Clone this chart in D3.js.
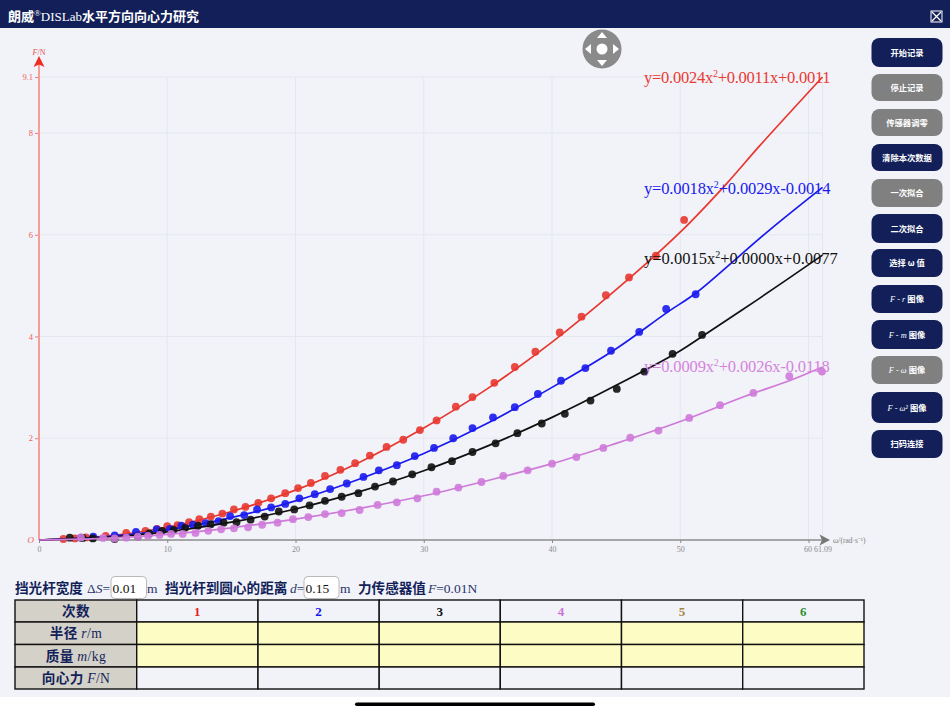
<!DOCTYPE html>
<html>
<head>
<meta charset="utf-8">
<script src="https://cdn.jsdelivr.net/npm/d3@7"></script>
<style>
  html, body { margin: 0; padding: 0; background: #fff; overflow: hidden; }
  svg { display: block; }
</style>
</head>
<body>
<div id="vis"></div>
<script>
const WIDTH = 950;
const HEIGHT = 712;
const SERIF = "'Liberation Serif', serif";
const CJK = "'Noto Sans CJK SC', sans-serif";
const NAVY = "#131f59";
const GREY = "#808080";

// measured points
const redW = [1.9,2.8,3.66,5.2,6.8,8.3,9.2,10,10.8,11.7,12.5,13.4,14.3,15.2,16.1,17.1,18.1,19.2,20.2,21.2,22.3,23.5,24.65,25.8,27.1,28.4,29.7,31,32.5,33.8,35.5,37.1,38.7,40.6,42.3,44.2,46,48.1,50.3];
const redF = [0.02,0.03,0.05,0.08,0.14,0.18,0.22,0.27,0.29,0.35,0.41,0.46,0.52,0.6,0.65,0.73,0.82,0.92,1.02,1.12,1.26,1.38,1.51,1.66,1.83,1.97,2.16,2.35,2.62,2.81,3.09,3.4,3.7,4.08,4.39,4.81,5.16,5.59,6.29];
const blueW = [3.27,4.23,5.9,7.56,9.17,10.2,11.1,12,13,14,14.9,16,17,18.1,19.2,20.3,21.5,22.7,24,25.3,26.5,27.9,29.3,30.8,32.3,33.8,35.4,37.1,38.9,40.7,42.6,44.6,46.8,48.9,51.2];
const blueF = [0.045,0.065,0.09,0.16,0.21,0.22,0.28,0.3,0.33,0.37,0.47,0.49,0.6,0.64,0.71,0.82,0.9,1,1.11,1.24,1.37,1.47,1.65,1.81,2,2.2,2.41,2.61,2.87,3.13,3.38,3.72,4.09,4.54,4.83];
const blackW = [2.4,3.4,4.2,5.9,7.7,8.6,9.6,10.5,11.4,12.4,13.4,14.4,15.4,16.5,17.6,18.7,19.9,21.1,22.3,23.6,24.9,26.2,27.6,29.1,30.6,32.2,33.8,35.6,37.3,39.2,41,43,45.05,47.2,49.4,51.7];
const blackF = [0.045,0.04,0.03,0.02,0.07,0.13,0.18,0.2,0.24,0.28,0.31,0.34,0.35,0.4,0.46,0.56,0.6,0.68,0.77,0.85,0.92,1.05,1.15,1.29,1.43,1.55,1.73,1.9,2.1,2.29,2.48,2.74,2.97,3.31,3.66,4.03];
const pinkW = [3.27,5,5.9,6.8,7.7,8.5,9.4,10.3,11.2,12.2,13.2,14.2,15.2,16.3,17.4,18.6,19.8,21,22.3,23.6,25,26.4,27.9,29.5,31,32.7,34.5,36.2,38.1,40,41.9,44,46.1,48.3,50.7,53.1,55.7,58.5,61.05];
const pinkF = [0.05,0.04,0.03,0.045,0.065,0.08,0.1,0.12,0.12,0.14,0.18,0.21,0.23,0.25,0.3,0.34,0.41,0.45,0.51,0.53,0.59,0.69,0.74,0.82,0.95,1.03,1.14,1.26,1.37,1.5,1.63,1.81,2.01,2.15,2.4,2.65,2.89,3.22,3.31];

// fitted lines
const redLineW = [0,5,10,15,20,25,30,35,40,45,50,53.6,56.2,61.09];
const redLineF = [0,0.07,0.25,0.56,0.98,1.53,2.2,2.98,3.89,4.92,6.05,7,7.75,9.1];
const blueLineW = [0,5,10,15,20,25,30,35,40,45,48.9,51.2,53.6,57,61.09];
const blueLineF = [0,0.06,0.2,0.44,0.77,1.2,1.7,2.3,3,3.76,4.46,4.85,5.36,6.1,6.93];
const blackLineW = [0,5,10,15,20,25,30,35,40,45,50,51.7,56,61.09];
const blackLineF = [0,0.05,0.16,0.35,0.61,0.95,1.36,1.85,2.41,3.04,3.72,4,4.72,5.6];
const pinkLineW = [0,5,10,15,20,25,30,35,40,45,50,55,58.5,61.09];
const pinkLineF = [0,0.03,0.11,0.24,0.41,0.62,0.87,1.17,1.5,1.9,2.33,2.82,3.13,3.4];

const xTicks = [0,10,20,30,40,50,60,61.09];
const yTicks = [2,4,6,8,9.1];
const fitLabels = ["0.0024x|+0.0011x+0.0011","0.0018x|+0.0029x-0.0014","0.0015x|+0.0000x+0.0077","0.0009x|+0.0026x-0.0118"];

const buttonNames = ["开始记录","停止记录","传感器调零","清除本次数据","一次拟合","二次拟合","选择 ω 值","F - r 图像","F - m 图像","F - ω 图像","F - ω² 图像","扫码连接"];
const buttonOff = [false,true,true,false,true,false,false,false,false,true,false,false];
const rowNames = ["次数","半径 r/m","质量 m/kg","向心力 F/N"];
const runNames = ["1","2","3","4","5","6"];
const runColors = ["#e8201c","#1515ee","#111111","#cc72d8","#a5853f","#2f8f2f"];

const svg = d3.select("#vis").append("svg").attr("width", WIDTH).attr("height", HEIGHT);

svg.append("rect").attr("width", WIDTH).attr("height", 697).attr("fill", "#f1f3f9");
svg.append("rect").attr("width", WIDTH).attr("height", 28).attr("fill", NAVY);
svg.append("rect").attr("x", 355).attr("y", 702.5).attr("width", 240).attr("height", 3.5).attr("rx", 1.7).attr("fill", "#000");

// title
const title = svg.append("text").attr("x", 8).attr("y", 21).attr("fill", "#fff").style("font-size", "13px");
title.append("tspan").style("font-family", CJK).style("font-weight", 700).text("朗威");
title.append("tspan").style("font-family", SERIF).style("font-size", "9px").attr("dy", -5).text("®");
title.append("tspan").style("font-family", SERIF).attr("dy", 5).text("DISLab");
title.append("tspan").style("font-family", CJK).style("font-weight", 700).text("水平方向向心力研究");

// close icon
const closeIcon = svg.append("g").attr("stroke", "#fff").attr("fill", "none");
closeIcon.append("rect").attr("x", 931).attr("y", 11).attr("width", 11).attr("height", 11).attr("stroke-width", 1);
closeIcon.append("path").attr("d", "M932,12L941,21M941,12L932,21").attr("stroke-width", 1.3);

// scales
const x = d3.scaleLinear().domain([0, 61.09]).range([39, 822.5]);
const y = d3.scaleLinear().domain([0, 9.1]).range([540, 77]);

// grid
svg.append("g").selectAll("line").data(xTicks.slice(1)).join("line")
  .attr("x1", d => x(d)).attr("x2", d => x(d)).attr("y1", y(9.1)).attr("y2", y(0))
  .attr("stroke", "#e5e7f0").attr("stroke-width", 1);
svg.append("g").selectAll("line").data(yTicks).join("line")
  .attr("x1", x(0)).attr("x2", x(61.09)).attr("y1", d => y(d)).attr("y2", d => y(d))
  .attr("stroke", "#e5e7f0").attr("stroke-width", 1);

// axes
const xAxis = svg.append("g").attr("transform", `translate(0,${y(0)})`)
  .call(d3.axisBottom(x).tickValues(xTicks).tickSize(3).tickPadding(3).tickFormat(d => d));
xAxis.select(".domain").remove();
xAxis.selectAll("line").attr("stroke", "#888");
xAxis.selectAll("text").attr("fill", "#8a8a8a").style("font-family", SERIF).style("font-size", "8px");
xAxis.selectAll(".tick").filter(d => d == 60).select("text").attr("dx", -1);
xAxis.selectAll(".tick").filter(d => d == 61.09).select("text").attr("dx", 0);

const yAxis = svg.append("g").attr("transform", `translate(${x(0)},0)`)
  .call(d3.axisLeft(y).tickValues(yTicks).tickSize(4).tickPadding(2).tickFormat(d => d));
yAxis.select(".domain").remove();
yAxis.selectAll("line").attr("stroke", "#f07a72");
yAxis.selectAll("text").attr("fill", "#f0605a").style("font-family", SERIF).style("font-size", "8.5px");

svg.append("line").attr("x1", x(0)).attr("x2", x(0)).attr("y1", y(0)).attr("y2", 62)
  .attr("stroke", "#f59d98").attr("stroke-width", 2);
svg.append("line").attr("x1", x(0)).attr("x2", 822).attr("y1", y(0)).attr("y2", y(0))
  .attr("stroke", "#8c8c8c").attr("stroke-width", 1.5);
svg.append("path").attr("d", `M${x(0)},56L44.5,67L${x(0)},64.5L33.5,67Z`).attr("fill", "#ee2a22");
svg.append("path").attr("d", "M830,540L819.5,534.5L822,540L819.5,545.5Z").attr("fill", "#777");

svg.append("text").attr("x", 27.5).attr("y", 543).attr("fill", "#f0605a")
  .style("font-family", SERIF).style("font-style", "italic").style("font-size", "9px").text("O");
const yName = svg.append("text").attr("x", 39).attr("y", 55).attr("text-anchor", "middle").attr("fill", "#e8504a")
  .style("font-family", SERIF).style("font-size", "8px");
yName.append("tspan").style("font-style", "italic").text("F");
yName.append("tspan").text("/N");
const xName = svg.append("text").attr("x", 833).attr("y", 543).attr("fill", "#808080")
  .style("font-family", SERIF).style("font-size", "7.5px");
xName.append("tspan").style("font-style", "italic").text("ω");
xName.append("tspan").text("/(rad·s⁻¹)");

// series
const seriesList = [
  { w: redW, f: redF, lw: redLineW, lf: redLineF, color: "#e8372f", text: "#ea3a32", yLabel: 83, spacing: -0.25 },
  { w: blueW, f: blueF, lw: blueLineW, lf: blueLineF, color: "#1a1aee", text: "#1a1aee", yLabel: 194, spacing: -0.15 },
  { w: blackW, f: blackF, lw: blackLineW, lf: blackLineF, color: "#111111", text: "#111111", yLabel: 264, spacing: 0 },
  { w: pinkW, f: pinkF, lw: pinkLineW, lf: pinkLineF, color: "#cf7ad9", text: "#d584dc", yLabel: 372, spacing: -0.15 }
];

const line = d3.line().x(d => x(d[0])).y(d => y(d[1])).curve(d3.curveCatmullRom);

seriesList.forEach((s, i) => {
  const G = svg.append("g");
  G.selectAll("circle").data(d3.zip(s.w, s.f)).join("circle")
    .attr("cx", d => x(d[0])).attr("cy", d => y(d[1])).attr("r", 3.9)
    .attr("fill", s.color).attr("opacity", 0.9);
  G.append("path").attr("d", line(d3.zip(s.lw, s.lf)))
    .attr("fill", "none").attr("stroke", s.color).attr("stroke-width", 1.7);

  const parts = fitLabels[i].split("|");
  const label = svg.append("text").attr("x", 644).attr("y", s.yLabel).attr("fill", s.text)
    .style("font-family", SERIF).style("font-size", "16.5px").style("letter-spacing", s.spacing + "px");
  label.append("tspan").text("y=" + parts[0]);
  label.append("tspan").attr("dy", -6).style("font-size", "10px").text("2");
  label.append("tspan").attr("dy", 6).text(parts[1]);
});

// direction pad
const pad = svg.append("g").attr("transform", "translate(602,49)");
pad.append("circle").attr("r", 19.5).attr("fill", "#8a8a8a");
pad.append("circle").attr("r", 5.5).attr("fill", "#fff");
pad.selectAll("path").data([0, 90, 180, 270]).join("path")
  .attr("d", "M0,-17L5,-11L-5,-11Z").attr("fill", "#fff")
  .attr("transform", d => `rotate(${d})`);

// buttons
const buttonY = [38,74,109,144,179,214,249,285,320,356,392,430];
const buttonH = [29,27,27,27,28,29,28,28,29,28,31,28];
const buttons = svg.append("g").selectAll("g").data(buttonNames).join("g");
buttons.append("rect")
  .attr("x", 871.5).attr("y", (d, i) => buttonY[i]).attr("width", 71).attr("height", (d, i) => buttonH[i]).attr("rx", 8)
  .attr("fill", (d, i) => buttonOff[i] ? GREY : NAVY);
buttons.each(function(d, i) {
  const T = d3.select(this).append("text")
    .attr("x", 907).attr("y", buttonY[i] + buttonH[i] / 2 + 3.3).attr("text-anchor", "middle")
    .attr("fill", "#fff").style("font-family", CJK).style("font-weight", 700).style("font-size", "8.3px");
  const m = d.match(/^(F - \S+) (.*)$/);
  if (m) {
    T.append("tspan").style("font-family", SERIF).style("font-style", "italic").style("font-weight", 400).text(m[1] + " ");
    T.append("tspan").text(m[2]);
  } else {
    T.text(d);
  }
});

// parameter row
function inputBox(bx, w, value) {
  svg.append("rect").attr("x", bx).attr("y", 576.5).attr("width", w).attr("height", 22).attr("rx", 4)
    .attr("fill", "#fff").attr("stroke", "#a8a8a8").attr("stroke-width", 0.8);
  svg.append("text").attr("x", bx + 1.5).attr("y", 593).attr("fill", "#111")
    .style("font-family", SERIF).style("font-size", "13.5px").text(value);
}
function cjkText(px, s) {
  svg.append("text").attr("x", px).attr("y", 592.5).attr("fill", NAVY)
    .style("font-family", CJK).style("font-weight", 700).style("font-size", "13.6px").text(s);
}
function mathText(px, a, b, c) {
  const T = svg.append("text").attr("x", px).attr("y", 592.5).attr("fill", "#2a3468")
    .style("font-family", SERIF).style("font-size", "13.5px");
  T.append("tspan").text(a);
  T.append("tspan").style("font-style", "italic").text(b);
  T.append("tspan").text(c);
}
cjkText(15, "挡光杆宽度");
mathText(87, "Δ", "S", "=");
inputBox(111, 35.5, "0.01");
mathText(147, "m", "", "");
cjkText(165, "挡光杆到圆心的距离");
mathText(290, "", "d", "=");
inputBox(304, 35, "0.15");
mathText(340, "m", "", "");
cjkText(358, "力传感器值");
mathText(428, "", "F", "=0.01N");

// table
const colX = [15, 136.7, 258, 379.2, 500.3, 621.5, 742.7, 864];
const rowY = [600, 622, 644.5, 667, 689];
const cells = d3.cross(d3.range(7), d3.range(4));
svg.append("g").selectAll("rect").data(cells).join("rect")
  .attr("x", d => colX[d[0]]).attr("y", d => rowY[d[1]])
  .attr("width", d => colX[d[0] + 1] - colX[d[0]]).attr("height", d => rowY[d[1] + 1] - rowY[d[1]])
  .attr("fill", d => d[0] == 0 ? "#d4d1c9" : (d[1] == 1 || d[1] == 2) ? "#fdfcc4" : "#f1f3f9")
  .attr("stroke", "#111").attr("stroke-width", 1.4);

svg.append("g").selectAll("text").data(runNames).join("text")
  .attr("x", (d, i) => (colX[i + 1] + colX[i + 2]) / 2).attr("y", 616)
  .attr("text-anchor", "middle").attr("fill", (d, i) => runColors[i])
  .style("font-family", SERIF).style("font-weight", 700).style("font-size", "13px").text(d => d);

rowNames.forEach((name, i) => {
  const T = svg.append("text").attr("x", 76).attr("y", rowY[i] + 16.3).attr("text-anchor", "middle").attr("fill", NAVY)
    .style("font-family", CJK).style("font-weight", 700).style("font-size", "13.6px").style("letter-spacing", "0.4px");
  const m = name.match(/^(\S+) (\S+)\/(\S+)$/);
  if (m) {
    T.append("tspan").text(m[1] + " ");
    T.append("tspan").style("font-family", SERIF).style("font-style", "italic").style("font-weight", 400).text(m[2]);
    T.append("tspan").style("font-family", SERIF).style("font-weight", 400).text("/" + m[3]);
  } else {
    T.text(name);
  }
});
</script>
</body>
</html>
